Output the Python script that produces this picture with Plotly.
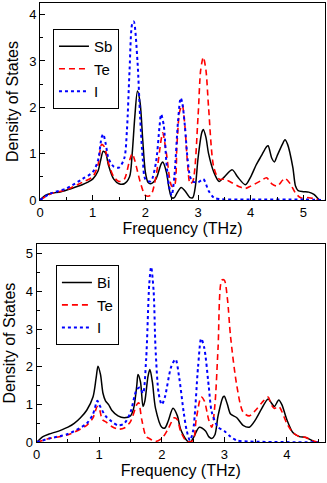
import plotly.graph_objects as go

# top panel: Sb / Te / I
sb_x = [0, 0.1, 0.2, 0.4, 0.6, 0.8, 0.9, 1.0, 1.1, 1.15, 1.2, 1.25, 1.3, 1.4, 1.5, 1.6, 1.7, 1.75, 1.8, 1.85,
        1.9, 1.95, 2.0, 2.05, 2.1, 2.2, 2.3, 2.33, 2.4, 2.45, 2.5, 2.55, 2.6, 2.68, 2.75, 2.85, 2.9, 2.95,
        3.0, 3.07, 3.1, 3.15, 3.2, 3.3, 3.4, 3.5, 3.65, 3.75, 3.9, 4.0, 4.1, 4.2, 4.3, 4.33, 4.4, 4.45,
        4.5, 4.6, 4.65, 4.7, 4.8, 4.85, 4.9, 5.0, 5.1, 5.2, 5.3]
sb_y = [0, 0.1, 0.14, 0.18, 0.25, 0.33, 0.38, 0.45, 0.62, 0.85, 1.05, 1.0, 0.75, 0.45, 0.35, 0.35, 0.5, 1.0, 1.8, 2.35,
        2.1, 1.3, 0.6, 0.38, 0.35, 0.45, 0.78, 0.82, 0.6, 0.25, 0.05, 0.05, 0.15, 0.27, 0.2, 0.05, 0.05, 0.3,
        0.9, 1.45, 1.52, 1.35, 1.0, 0.6, 0.4, 0.5, 0.65, 0.5, 0.33, 0.5, 0.75, 0.95, 1.15, 1.17, 0.9, 0.82,
        0.95, 1.2, 1.3, 1.2, 0.7, 0.3, 0.2, 0.18, 0.17, 0.12, 0.0]

te1_x = [0, 0.2, 0.5, 0.8, 1.0, 1.1, 1.17, 1.22, 1.3, 1.4, 1.5, 1.6, 1.7, 1.75, 1.8, 1.9, 2.0, 2.1, 2.2, 2.3,
         2.33, 2.4, 2.5, 2.55, 2.6, 2.65, 2.7, 2.75, 2.8, 2.85, 2.9, 3.0, 3.05, 3.1, 3.15, 3.2, 3.3, 3.4,
         3.5, 3.6, 3.8, 3.9, 4.0, 4.2, 4.3, 4.4, 4.5, 4.6, 4.65, 4.75, 4.85, 4.95, 5.1, 5.2, 5.3]
te1_y = [0, 0.13, 0.22, 0.38, 0.5, 0.75, 1.2, 1.15, 0.8, 0.5, 0.4, 0.45, 0.85, 1.0, 0.85, 0.4, 0.1, 0.1, 0.5, 1.3,
         1.45, 1.0, 0.3, 0.3, 1.2, 1.9, 2.05, 1.6, 0.8, 0.35, 0.4, 1.8, 2.8, 3.08, 2.8, 2.0, 0.7, 0.45,
         0.45, 0.4, 0.28, 0.25, 0.3, 0.42, 0.48, 0.35, 0.3, 0.42, 0.47, 0.35, 0.15, 0.05, 0.05, 0.03, 0.0]

i1_x = [0, 0.2, 0.5, 0.8, 1.0, 1.1, 1.17, 1.2, 1.25, 1.3, 1.4, 1.5, 1.6, 1.65, 1.7, 1.75, 1.78, 1.85, 1.9, 1.95,
        2.0, 2.1, 2.2, 2.27, 2.3, 2.35, 2.4, 2.45, 2.5, 2.55, 2.62, 2.67, 2.7, 2.75, 2.8, 2.85, 2.9, 3.0,
        3.1, 3.2, 3.3, 3.4, 4.0, 5.0, 5.4]
i1_y = [0, 0.14, 0.25, 0.45, 0.6, 0.85, 1.35, 1.42, 1.2, 0.9, 0.72, 0.7, 0.9, 1.5, 2.8, 3.8, 3.85, 3.0, 1.8, 0.9,
        0.45, 0.4, 0.8, 1.6, 1.85, 1.6, 0.8, 0.3, 0.1, 0.5, 1.7, 2.2, 2.1, 1.6, 0.9, 0.5, 0.4, 0.38,
        0.45, 0.2, 0.05, 0.02, 0.01, 0.01, 0]

# bottom panel: Bi / Te / I
bi_x = [0, 0.1, 0.2, 0.3, 0.4, 0.5, 0.6, 0.7, 0.8, 0.9, 0.95, 0.98, 1.02, 1.06, 1.1, 1.15, 1.2, 1.3, 1.4, 1.5,
        1.55, 1.6, 1.62, 1.66, 1.7, 1.73, 1.78, 1.81, 1.85, 1.9, 2.0, 2.05, 2.1, 2.18, 2.25, 2.3, 2.4, 2.45,
        2.5, 2.6, 2.7, 2.75, 2.8, 2.85, 2.9, 2.98, 3.0, 3.05, 3.1, 3.2, 3.3, 3.4, 3.5, 3.6, 3.7, 3.75,
        3.8, 3.87, 3.92, 4.0, 4.1, 4.2, 4.3, 4.4, 4.45]
bi_y = [0, 0.15, 0.22, 0.27, 0.33, 0.4, 0.5, 0.65, 0.85, 1.2, 1.7, 2.02, 1.8, 1.3, 1.1, 1.0, 0.85, 0.7, 0.65, 0.7,
        0.9, 1.5, 1.8, 1.6, 0.95, 1.1, 1.75, 1.93, 1.6, 0.9, 0.4, 0.38, 0.55, 0.9, 0.7, 0.35, 0.05, 0.0,
        0.1, 0.4, 0.3, 0.15, 0.1, 0.2, 0.7, 1.2, 1.22, 1.0, 0.75, 0.65, 0.45, 0.4, 0.6, 0.9, 1.15, 1.05,
        0.95, 1.12, 1.0, 0.6, 0.25, 0.15, 0.13, 0.05, 0.0]

te2_x = [0, 0.2, 0.5, 0.8, 0.9, 0.97, 1.0, 1.05, 1.1, 1.2, 1.3, 1.4, 1.5, 1.6, 1.63, 1.68, 1.75, 1.8, 1.9, 2.0,
         2.1, 2.2, 2.25, 2.3, 2.4, 2.5, 2.55, 2.63, 2.68, 2.75, 2.8, 2.85, 2.9, 2.96, 3.0, 3.05, 3.1, 3.2,
         3.3, 3.4, 3.5, 3.6, 3.7, 3.75, 3.8, 3.87, 4.0, 4.1, 4.2, 4.3, 4.4, 4.5]
te2_y = [0, 0.1, 0.2, 0.45, 0.65, 0.95, 0.9, 0.6, 0.55, 0.42, 0.35, 0.38, 0.55, 1.0, 1.05, 0.6, 0.15, 0.1, 0.02, 0.1,
         0.35, 0.65, 0.6, 0.3, 0.02, 0.05, 0.6, 1.2, 1.1, 0.6, 0.4, 1.0, 2.5, 4.3, 4.3, 3.8, 2.8, 1.5,
         0.8, 0.7, 0.85, 1.05, 1.2, 1.0, 0.9, 0.95, 0.5, 0.25, 0.15, 0.13, 0.05, 0.0]

i2_x = [0, 0.2, 0.5, 0.8, 0.9, 0.97, 1.0, 1.1, 1.2, 1.3, 1.4, 1.5, 1.6, 1.65, 1.7, 1.75, 1.8, 1.83, 1.87, 1.9,
        1.95, 2.0, 2.05, 2.15, 2.22, 2.28, 2.35, 2.4, 2.45, 2.5, 2.58, 2.63, 2.68, 2.75, 2.8, 2.9, 3.0,
        3.1, 3.2, 3.4, 4.5]
i2_y = [0, 0.1, 0.22, 0.5, 0.75, 1.1, 1.0, 0.7, 0.55, 0.45, 0.5, 0.8, 1.4, 1.45, 1.3, 2.2, 4.2, 4.65, 4.0, 2.5,
        1.3, 1.0, 1.2, 2.0, 2.2, 1.7, 0.8, 0.3, 0.05, 0.3, 2.0, 2.75, 2.5, 1.5, 0.8, 0.4, 0.3,
        0.15, 0.05, 0.02, 0.0]

fig = go.Figure()

def add(x, y, name, color, dash, width, xa, ya, legend):
    fig.add_trace(go.Scatter(x=x, y=y, name=name, mode='lines',
                             line=dict(color=color, dash=dash, width=width, shape='spline', smoothing=0.8),
                             xaxis=xa, yaxis=ya, legend=legend))

add(sb_x, sb_y, 'Sb', 'black', 'solid', 1.5, 'x', 'y', 'legend')
add(te1_x, te1_y, 'Te', '#ff0000', '6px,4px', 1.6, 'x', 'y', 'legend')
add(i1_x, i1_y, 'I', '#0000ff', 'dot', 2, 'x', 'y', 'legend')
add(bi_x, bi_y, 'Bi', 'black', 'solid', 1.5, 'x2', 'y2', 'legend2')
add(te2_x, te2_y, 'Te', '#ff0000', '6px,4px', 1.6, 'x2', 'y2', 'legend2')
add(i2_x, i2_y, 'I', '#0000ff', 'dot', 2, 'x2', 'y2', 'legend2')

font = dict(family='Liberation Sans, Arial', size=13, color='black')
ax = dict(showline=True, linecolor='black', linewidth=1, mirror=True, ticks='inside', ticklen=5,
          tickcolor='black', showgrid=False, zeroline=False, tickfont=font, automargin=False,
          minor=dict(ticks='inside', ticklen=3, tickcolor='black'))
tfont = dict(family='Liberation Sans, Arial', size=16, color='black')

fig.update_layout(
    width=327, height=483, margin=dict(l=0, r=0, t=0, b=0),
    plot_bgcolor='white', paper_bgcolor='white', font=font,
    xaxis=dict(ax, domain=[0.1223, 0.9939], range=[0, 5.41], dtick=1, anchor='y',
               minor=dict(ax['minor'], dtick=0.5),
               title=dict(text='Frequency (THz)', font=tfont, standoff=2)),
    yaxis=dict(ax, domain=[0.5859, 0.9938], range=[0, 4.25], dtick=1, anchor='x',
               minor=dict(ax['minor'], dtick=0.5),
               title=dict(text='Density of States', font=tfont, standoff=6)),
    xaxis2=dict(ax, domain=[0.1122, 0.9939], range=[0, 4.61], dtick=1, anchor='y2',
                minor=dict(ax['minor'], dtick=0.5),
                title=dict(text='Frequency (THz)', font=tfont, standoff=2)),
    yaxis2=dict(ax, domain=[0.0843, 0.4948], range=[0, 5.26], dtick=1, anchor='x2',
                minor=dict(ax['minor'], dtick=0.5),
                title=dict(text='Density of States', font=tfont, standoff=6)),
    legend=dict(x=0.162, y=0.94, xanchor='left', yanchor='top', bordercolor='black', borderwidth=1,
                bgcolor='white', font=dict(size=15), tracegroupgap=0, itemwidth=30),
    legend2=dict(x=0.171, y=0.451, xanchor='left', yanchor='top', bordercolor='black', borderwidth=1,
                 bgcolor='white', font=dict(size=15), tracegroupgap=0, itemwidth=30),
)

# page body has a default 8px margin; drop it so the 327x483 figure sits at the corner
fig.write_html("out.html", config={'displayModeBar': False},
               post_script="document.body.style.margin='0px';")
